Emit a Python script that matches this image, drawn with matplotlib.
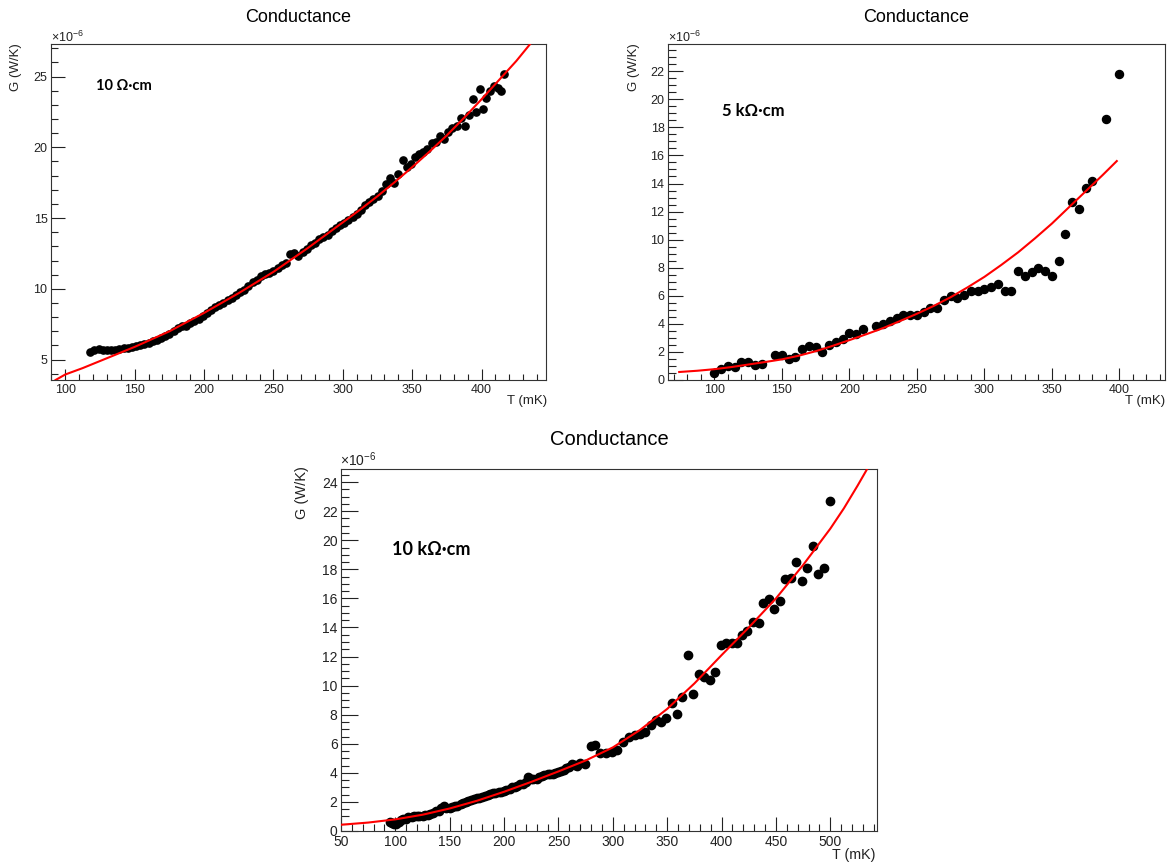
import matplotlib
matplotlib.use("Agg")
import matplotlib.pyplot as plt
from matplotlib.ticker import MultipleLocator

plt.rcParams['font.family'] = ['Liberation Sans', 'DejaVu Sans']
plt.rcParams['mathtext.fontset'] = 'custom'
plt.rcParams['mathtext.rm'] = 'Liberation Sans'
plt.rcParams['mathtext.it'] = 'Liberation Sans:italic'

# ---------------- data (G in units of 1e-6 W/K, T in mK) ----------------
# Panel 1: 10 Ohm cm
t1 = [118, 121, 124, 127, 130, 133, 136, 139, 142, 145, 148, 151, 154, 157, 160,
      163, 166, 169, 172, 175, 178, 181, 184, 187, 190, 193, 196, 199, 202, 205,
      208, 211, 214, 217, 220, 223, 226, 229, 232, 235, 238, 241, 244, 247, 250,
      253, 256, 259, 262, 265, 268, 271, 274, 277, 280, 283, 286, 289, 292, 295,
      298, 301, 304, 307, 310, 313, 316, 319, 322, 325, 328, 331, 334, 337, 340,
      343, 346, 349, 352, 355, 358, 361, 364, 367, 370, 373, 376, 379, 382, 385,
      388, 391, 394, 396, 399, 401, 403, 406, 409, 412, 414, 416]
g1 = [5.55, 5.65, 5.75, 5.68, 5.7, 5.65, 5.7, 5.72, 5.8, 5.85, 5.9, 5.95, 6.05, 6.1, 6.2,
      6.3, 6.4, 6.55, 6.65, 6.8, 7.0, 7.2, 7.35, 7.4, 7.6, 7.75, 7.9, 8.1, 8.3, 8.5,
      8.7, 8.85, 9.0, 9.2, 9.35, 9.55, 9.8, 9.95, 10.2, 10.45, 10.65, 10.9, 11.05, 11.15, 11.25,
      11.45, 11.65, 11.85, 12.45, 12.5, 12.35, 12.6, 12.85, 13.1, 13.25, 13.5, 13.65, 13.8, 14.1, 14.3,
      14.5, 14.65, 14.85, 15.1, 15.3, 15.6, 15.9, 16.15, 16.35, 16.55, 16.9, 17.4, 17.8, 17.5, 18.1,
      19.1, 18.6, 18.8, 19.3, 19.5, 19.7, 19.9, 20.3, 20.4, 20.8, 20.6, 21.1, 21.4, 21.5, 22.1,
      21.5, 22.3, 23.4, 22.5, 24.1, 22.7, 23.5, 24.0, 24.3, 24.2, 24.0, 25.2]
fit1_t = [93, 100, 112.5, 125, 137.5, 150, 162.5, 175, 187.5, 200, 212.5, 225, 237.5,
          250, 262.5, 275, 287.5, 300, 312.5, 325, 337.5, 350, 362.5, 375, 387.5,
          400, 412.5, 425, 435]
fit1_g = [3.56, 3.95, 4.4, 4.9, 5.4, 5.9, 6.45, 7.0, 7.65, 8.3, 9.0, 9.7, 10.45,
          11.2, 12.05, 12.9, 13.8, 14.7, 15.6, 16.55, 17.55, 18.6, 19.7, 20.85, 22.1,
          23.4, 24.75, 26.1, 27.3]

# Panel 2: 5 kOhm cm
t2 = [100, 105, 110, 115, 120, 125, 130, 135, 145, 150, 155, 160, 165, 170, 175,
      180, 185, 190, 195, 200, 205, 210, 220, 225, 230, 235, 240, 245, 250, 255,
      260, 265, 270, 275, 280, 285, 290, 295, 300, 305, 310, 315, 320, 325, 330,
      335, 340, 345, 350, 355, 360, 365, 370, 375, 380, 390, 400]
g2 = [0.47, 0.8, 1.0, 0.92, 1.28, 1.28, 1.1, 1.15, 1.75, 1.8, 1.5, 1.65, 2.18, 2.4, 2.35,
      2.0, 2.5, 2.7, 2.93, 3.35, 3.3, 3.6, 3.88, 4.0, 4.23, 4.42, 4.66, 4.66, 4.6, 4.85,
      5.13, 5.13, 5.68, 5.96, 5.84, 6.06, 6.36, 6.36, 6.48, 6.62, 6.86, 6.36, 6.36, 7.8, 7.38,
      7.7, 8.0, 7.74, 7.43, 8.5, 10.39, 12.7, 12.18, 13.65, 14.2, 18.6, 21.8]
fit2_t = [74, 87.5, 100, 112.5, 125, 137.5, 150, 162.5, 175, 187.5, 200, 212.5, 225,
          237.5, 250, 262.5, 275, 287.5, 300, 312.5, 325, 337.5, 350, 362.5, 375,
          387.5, 398]
fit2_g = [0.57, 0.66, 0.77, 0.92, 1.1, 1.28, 1.47, 1.73, 2.05, 2.43, 2.84, 3.26, 3.7,
          4.2, 4.72, 5.28, 5.9, 6.6, 7.35, 8.2, 9.1, 10.1, 11.15, 12.3, 13.45,
          14.6, 15.6]

# Panel 3: 10 kOhm cm
t3 = [95, 97, 99, 101, 103, 105, 107, 110, 112, 115, 117, 120, 122, 125, 127,
      130, 132, 135, 137, 140, 142, 145, 147, 150, 152, 155, 157, 160, 162, 165,
      167, 170, 172, 175, 177, 180, 182, 185, 187, 190, 192, 195, 197, 200, 202,
      205, 207, 210, 212, 215, 217, 220, 222, 225, 227, 230, 232, 235, 237, 240,
      242, 245, 247, 250, 252, 255, 257, 260, 262, 265, 267, 270, 274,
      279.5, 284, 288.6, 294, 299.5, 304, 309.7, 314.8, 320, 325, 329.7, 334.8, 339.5, 344, 349.3,
      354, 358.7, 363.8, 369, 374, 379.5, 384, 389.6, 394, 399.4, 404, 409.6, 414, 418.7,
      423.8, 428.5, 434, 438.3, 443.4, 448.5, 453.9, 458.6, 463.7, 468.8, 473.9, 478.6, 484,
      488.8, 493.9, 499.3]
g3 = [0.62, 0.55, 0.45, 0.5, 0.65, 0.75, 0.8, 0.85, 0.95, 0.95, 1.0, 1.05, 1.02, 1.05, 1.08,
      1.1, 1.15, 1.25, 1.35, 1.4, 1.55, 1.7, 1.6, 1.6, 1.65, 1.75, 1.7, 1.85, 1.9, 2.0,
      2.05, 2.1, 2.2, 2.25, 2.3, 2.35, 2.4, 2.5, 2.55, 2.6, 2.6, 2.65, 2.7, 2.75, 2.8,
      2.9, 3.0, 3.0, 3.1, 3.2, 3.25, 3.35, 3.7, 3.6, 3.55, 3.6, 3.7, 3.75, 3.85, 3.9,
      3.95, 3.9, 4.0, 4.05, 4.15, 4.2, 4.35, 4.4, 4.6, 4.55, 4.45, 4.65, 4.6,
      5.87, 5.94, 5.35, 5.35, 5.42, 5.58, 6.1, 6.45, 6.63, 6.67, 6.79, 7.3, 7.66, 7.47, 7.8,
      8.78, 8.05, 9.23, 12.09, 9.42, 10.8, 10.56, 10.4, 10.97, 12.8, 12.96, 12.96, 12.9, 13.49,
      13.76, 14.38, 14.33, 15.7, 15.93, 15.29, 15.82, 17.3, 17.37, 18.49, 17.19, 18.06, 19.59,
      17.69, 18.1, 22.72]
fit3_t = [50, 75, 100, 125, 150, 175, 200, 225, 250, 275, 300, 325, 350, 375, 400,
          425, 450, 475, 500, 512.5, 525, 535]
fit3_g = [0.43, 0.58, 0.8, 1.12, 1.55, 2.08, 2.7, 3.38, 4.1, 4.85, 5.75, 6.95, 8.4, 10.15, 12.1,
          14.0, 16.0, 18.3, 20.8, 22.2, 23.75, 25.05]

labels = ["10 \u03a9\u00b7cm", "5 k\u03a9\u00b7cm", "10 k\u03a9\u00b7cm"]

# ---------------- figure ----------------
W, H = 1171, 867
fig = plt.figure(figsize=(W / 100, H / 100), dpi=100)


def px_axes(l, t, r, b):
    return fig.add_axes([l / W, 1 - b / H, (r - l) / W, (b - t) / H])


def fy(y):
    return 1 - y / H


def setup(ax, xlim, ylim, ymaj, ymin, xlen, ylen, fs):
    ax.set_xlim(*xlim)
    ax.set_ylim(*ylim)
    ax.xaxis.set_major_locator(MultipleLocator(50))
    ax.xaxis.set_minor_locator(MultipleLocator(10))
    ax.yaxis.set_major_locator(MultipleLocator(ymaj))
    ax.yaxis.set_minor_locator(MultipleLocator(ymin))
    ax.tick_params(axis='x', which='major', direction='in', length=xlen, width=0.8,
                   pad=3, labelsize=fs, colors='#222222')
    ax.tick_params(axis='x', which='minor', direction='in', length=xlen / 2, width=0.8,
                   colors='#222222')
    ax.tick_params(axis='y', which='major', direction='in', length=ylen, width=0.8,
                   pad=2.5, labelsize=fs, colors='#222222')
    ax.tick_params(axis='y', which='minor', direction='in', length=ylen / 2, width=0.8,
                   colors='#222222')
    for s in ax.spines.values():
        s.set_linewidth(0.8)
        s.set_color('#333333')


# Panel 1
ax1 = px_axes(51, 44, 546, 380)
ax1.plot(t1, g1, 'o', color='black', markersize=5.2, zorder=2)
ax1.plot(fit1_t, fit1_g, '-', color='#ff0000', lw=1.5, zorder=3)
setup(ax1, (89.7, 446.4), (3.56, 27.3), 5, 1, 8, 10, 9)
ax1.text(0.091, 0.875, labels[0], transform=ax1.transAxes, ha='left', va='center',
         fontsize=10.5, fontweight='bold', family=['Lato', 'DejaVu Sans'])

# Panel 2
ax2 = px_axes(668, 44, 1165, 380)
ax2.plot(t2, g2, 'o', color='black', markersize=5.8, zorder=2)
ax2.plot(fit2_t, fit2_g, '-', color='#ff0000', lw=1.5, zorder=3)
setup(ax2, (65.7, 433.7), (0, 23.94), 2, 0.5, 8.6, 10.8, 9)
ax2.text(0.109, 0.80, labels[1], transform=ax2.transAxes, ha='left', va='center',
         fontsize=12, fontweight='bold', family=['Lato', 'DejaVu Sans'])

# Panel 3
ax3 = px_axes(341, 469, 877, 831)
ax3.plot(t3, g3, 'o', color='black', markersize=6.0, zorder=2)
ax3.plot(fit3_t, fit3_g, '-', color='#ff0000', lw=1.5, zorder=3)
setup(ax3, (50, 542.9), (0, 24.9), 2, 0.5, 10, 12, 10)
ax3.text(0.096, 0.779, labels[2], transform=ax3.transAxes, ha='left', va='center',
         fontsize=13, fontweight='bold', family=['Lato', 'DejaVu Sans'])

# Titles, axis labels, exponent labels (ROOT style placement)
for cx, base, fs in [(298.5, 22.5, 13), (916.5, 22.5, 13), (609, 445, 14.5)]:
    fig.text(cx / W, fy(base), "Conductance", ha='center', va='baseline', fontsize=fs)

for x, top, fs in [(16, 43, 9.5), (633.5, 43, 9.5), (301.7, 466, 10.5)]:
    fig.text(x / W, fy(top), "G (W/K)", rotation=90, ha='center', va='top', fontsize=fs,
             color='#222222')

for right, yc, fs in [(547, 401, 9.5), (1165, 401, 9.5), (876, 855, 10.3)]:
    fig.text(right / W, fy(yc), "T (mK)", ha='right', va='center', fontsize=fs,
             color='#222222')

for left, base, fs in [(51, 42, 9), (668, 42, 9), (340.5, 466, 10)]:
    fig.text(left / W, fy(base), "\u00d7$\\mathregular{10^{-6}}$", ha='left',
             va='baseline', fontsize=fs, color='#222222')

fig.savefig("out.png", dpi=100)
